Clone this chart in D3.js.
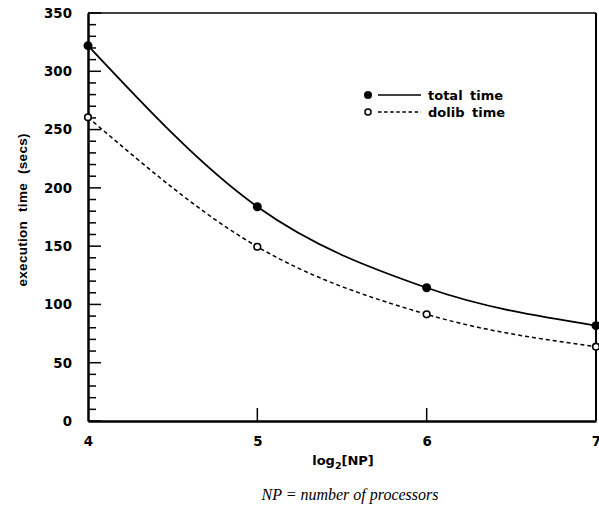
<!DOCTYPE html>
<html><head><meta charset="utf-8">
<script src="https://cdn.jsdelivr.net/npm/d3@7"></script>
<style>body{margin:0;background:#fff}</style>
</head><body>
<script>
const xValues = [4, 5, 6, 7];
const totalTime = [322, 183.8, 114.3, 81.8];
const dolibTime = [260.5, 149.5, 91.5, 63.8];
const yTicks = [0, 50, 100, 150, 200, 250, 300, 350];
const xTicks = [4, 5, 6, 7];

const W = 599, H = 508;
const svg = d3.select("body").append("svg").attr("width", W).attr("height", H);
const L = 88, R = 596, T = 13, B = 421;
const x = d3.scaleLinear().domain([4, 7]).range([L, R]);
const y = d3.scaleLinear().domain([0, 350]).range([B, T]);

const font = "DejaVu Sans, Verdana, sans-serif";

// frame
svg.append("line").attr("x1", L).attr("x2", R).attr("y1", T).attr("y2", T).attr("stroke", "#000").attr("stroke-width", 1.5);
svg.append("line").attr("x1", R).attr("x2", R).attr("y1", T).attr("y2", B).attr("stroke", "#000").attr("stroke-width", 2);

// y axis minor ticks
const minor = d3.range(0, 351, 10);
svg.append("g").selectAll("line").data(minor).join("line")
  .attr("x1", L).attr("x2", d => d % 50 === 0 ? L + 13 : L + 8)
  .attr("y1", d => y(d)).attr("y2", d => y(d))
  .attr("stroke", "#000").attr("stroke-width", 1.5);

// y axis
const yAxis = d3.axisLeft(y).tickValues(yTicks).tickSize(0).tickPadding(16).tickFormat(d3.format("d"));
const gy = svg.append("g").attr("transform", `translate(${L},0)`).call(yAxis);
gy.select(".domain").attr("stroke-width", 2.5);
gy.selectAll("text").attr("font-family", font).attr("font-weight", "bold").attr("font-size", 13.4).attr("fill", "#000");

// x axis
const xAxis = d3.axisBottom(x).tickValues(xTicks).tickSize(0).tickPadding(15).tickFormat(d3.format("d"));
const gx = svg.append("g").attr("transform", `translate(0,${B})`).call(xAxis);
gx.select(".domain").attr("stroke-width", 2.5);
gx.selectAll("text").attr("font-family", font).attr("font-weight", "bold").attr("font-size", 13.4).attr("fill", "#000");
svg.append("g").selectAll("line").data([5, 6]).join("line")
  .attr("x1", d => x(d)).attr("x2", d => x(d)).attr("y1", B).attr("y2", B - 13)
  .attr("stroke", "#000").attr("stroke-width", 1.5);

// lines
const line = d3.line().x(d => x(d[0])).y(d => y(d[1])).curve(d3.curveMonotoneX);
const totalData = xValues.map((v, i) => [v, totalTime[i]]);
const dolibData = xValues.map((v, i) => [v, dolibTime[i]]);
svg.append("path").attr("d", line(totalData)).attr("fill", "none").attr("stroke", "#000").attr("stroke-width", 1.8);
svg.append("path").attr("d", line(dolibData)).attr("fill", "none").attr("stroke", "#000").attr("stroke-width", 1.5).attr("stroke-dasharray", "4,3");

svg.append("g").selectAll("circle").data(totalData).join("circle")
  .attr("cx", d => x(d[0])).attr("cy", d => y(d[1])).attr("r", 4.5).attr("fill", "#000");
svg.append("g").selectAll("circle").data(dolibData).join("circle")
  .attr("cx", d => x(d[0])).attr("cy", d => y(d[1])).attr("r", 3.3).attr("fill", "#fff").attr("stroke", "#000").attr("stroke-width", 1.6);

// legend
const lg = svg.append("g");
lg.append("circle").attr("cx", 368).attr("cy", 95).attr("r", 4).attr("fill", "#000");
lg.append("line").attr("x1", 378).attr("x2", 421).attr("y1", 95).attr("y2", 95).attr("stroke", "#000").attr("stroke-width", 1.6);
lg.append("text").attr("x", 428).attr("y", 100).text("total time");
lg.append("circle").attr("cx", 368).attr("cy", 112).attr("r", 3).attr("fill", "#fff").attr("stroke", "#000").attr("stroke-width", 1.5);
lg.append("line").attr("x1", 378).attr("x2", 421).attr("y1", 112).attr("y2", 112).attr("stroke", "#000").attr("stroke-width", 1.4).attr("stroke-dasharray", "3.5,2.6");
lg.append("text").attr("x", 428).attr("y", 117).text("dolib time");
lg.selectAll("text").attr("font-family", font).attr("font-weight", "bold").attr("font-size", 13).attr("word-spacing", 3);

// y label
svg.append("text").attr("transform", "translate(27,210) rotate(-90)").attr("text-anchor", "middle")
  .attr("font-family", "Liberation Sans, Arial, sans-serif").attr("font-weight", "bold").attr("font-size", 13.5)
  .attr("word-spacing", 5).attr("textLength", 153).attr("lengthAdjust", "spacing")
  .text("execution time (secs)");

// x label
const xl = svg.append("text").attr("x", 343).attr("y", 465).attr("text-anchor", "middle")
  .attr("font-family", font).attr("font-weight", "bold").attr("font-size", 13);
xl.append("tspan").text("log");
xl.append("tspan").attr("dy", 4).attr("font-size", 9.5).text("2");
xl.append("tspan").attr("dy", -4).text("[NP]");

// caption
svg.append("text").attr("x", 350).attr("y", 500).attr("text-anchor", "middle")
  .attr("font-family", "Liberation Serif, Times New Roman, serif").attr("font-style", "italic").attr("font-size", 16)
  .text("NP = number of processors");
</script>
</body></html>
